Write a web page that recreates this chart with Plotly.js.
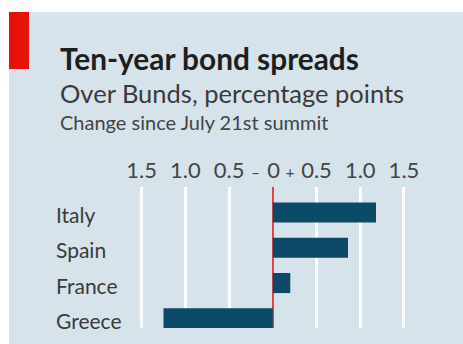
<!DOCTYPE html>
<html><head><meta charset="utf-8">
<script src="https://cdn.plot.ly/plotly-3.0.1.min.js"></script>
<style>html,body{margin:0;padding:0;background:#fff;}#chart{width:463px;height:344px;}</style>
</head><body><div id="chart"></div>
<script>
const countries = ["Italy", "Spain", "France", "Greece"];
const change = [1.18, 0.86, 0.2, -1.25];
const tickValues = [-1.5, -1, -0.5, 0, 0.5, 1, 1.5];
const tickLabels = ["1.5", "1.0", "0.5",
  "<span style='font-size:15px'>\u2013\u2009</span>\u00a00\u00a0<span style='font-size:15px'>+</span>",
  "0.5", "1.0", "1.5"];
const titleText = "Ten-year bond spreads";
const subtitleText = "Over Bunds, percentage points";
const noteText = "Change since July 21st summit";

const W = 463, H = 344, L = 130, R = 20, T = 187, B = 16;
const pw = W - L - R, ph = H - T - B;
const xp = px => (px - L) / pw;
const yp = py => (H - B - py) / ph;
const FONT = "Lato, 'Noto Sans', sans-serif";
const panel = "#d6e3eb";

const trace = {
  type: "bar", orientation: "h",
  x: change, y: countries,
  marker: {color: "#0c4b67"},
  width: 0.57,
  hoverinfo: "skip"
};

const annotations = [
  {text: "<b>" + titleText + "</b>", xref: "paper", yref: "paper", x: xp(58), y: yp(58), xanchor: "left", yanchor: "middle", showarrow: false, font: {family: FONT, size: 29.8, color: "#1e1e1e"}},
  {text: subtitleText, xref: "paper", yref: "paper", x: xp(58), y: yp(93), xanchor: "left", yanchor: "middle", showarrow: false, font: {family: FONT, size: 25.5, color: "#3a3a3a"}},
  {text: noteText, xref: "paper", yref: "paper", x: xp(58), y: yp(122), xanchor: "left", yanchor: "middle", showarrow: false, font: {family: FONT, size: 20, color: "#444"}}
].concat(countries.map(c => ({
  text: c, xref: "paper", yref: "y", x: xp(54), y: c, xanchor: "left", yanchor: "middle",
  yshift: -2, showarrow: false, font: {family: FONT, size: 21, color: "#3a3a3a"}
})));

const layout = {
  width: W, height: H,
  margin: {l: L, r: R, t: T, b: B, pad: 0},
  paper_bgcolor: panel, plot_bgcolor: panel,
  showlegend: false,
  xaxis: {
    side: "top", range: [(L - 272.8) / 87.45, (W - R - 272.8) / 87.45],
    tickmode: "array", tickvals: tickValues, ticktext: tickLabels,
    ticks: "", showgrid: true, gridcolor: "#ffffff", gridwidth: 3,
    zeroline: true, zerolinecolor: "#e2404a", zerolinewidth: 2,
    showline: false, tickfont: {family: FONT, size: 22, color: "#444"},
    ticklabelstandoff: 4,
    fixedrange: true
  },
  yaxis: {
    type: "category", range: [3.275, -0.723],
    showticklabels: false, showgrid: false, zeroline: false, showline: false, ticks: "",
    fixedrange: true
  },
  shapes: [
    {type: "rect", xref: "paper", yref: "paper", x0: -1, x1: 2, y0: yp(12), y1: yp(-20), fillcolor: "#ffffff", line: {width: 0}, layer: "above"},
    {type: "rect", xref: "paper", yref: "paper", x0: xp(-20), x1: xp(9), y0: yp(400), y1: yp(-20), fillcolor: "#ffffff", line: {width: 0}, layer: "above"},
    {type: "rect", xref: "paper", yref: "paper", x0: xp(9), x1: xp(29), y0: yp(69), y1: yp(12), fillcolor: "#e3120b", line: {width: 0}, layer: "above"}
  ],
  annotations: annotations
};

Plotly.newPlot("chart", [trace], layout, {displayModeBar: false, staticPlot: true});
</script></body></html>
